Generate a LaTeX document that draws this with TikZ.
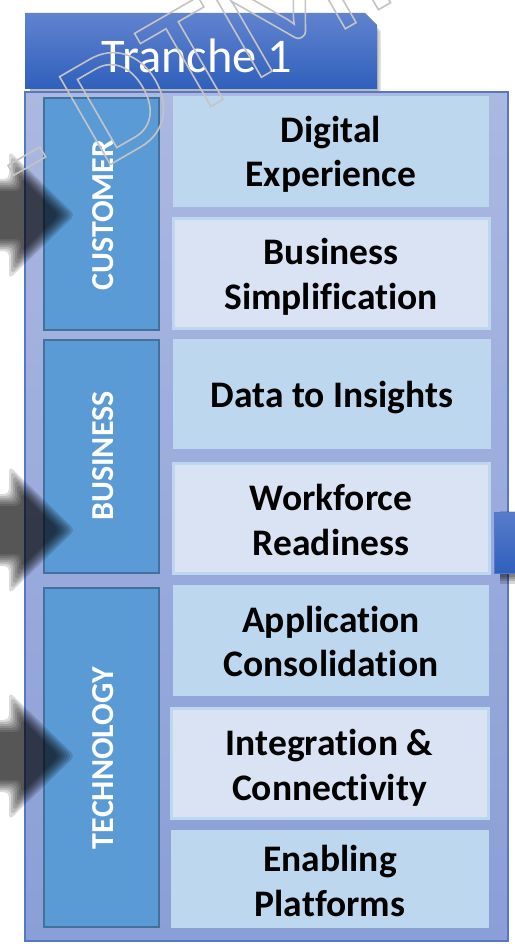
\documentclass[tikz,border=0pt]{standalone}
\usepackage{fontspec}
\setmainfont[RawFeature={-liga;-clig;-dlig}]{Carlito}
\definecolor{frameedge}{HTML}{5577C6}
\definecolor{frametop}{HTML}{ABB8E0}
\definecolor{framebot}{HTML}{8A9FD7}
\definecolor{tabtop}{HTML}{6183CF}
\definecolor{tabbot}{HTML}{2F60BC}
\definecolor{sidefill}{HTML}{5B9BD5}
\definecolor{sideedge}{HTML}{41719C}
\definecolor{itemdark}{HTML}{BDD7EE}
\definecolor{itemlight}{HTML}{DAE3F3}
\tikzset{
  sidebox/.style={draw=sideedge,line width=2.4pt,fill=sidefill,inner sep=0pt,minimum width=115pt},
  sidelabel/.style={text=white,font=\fontsize{32}{32}\selectfont\bfseries,rotate=90,inner sep=0pt},
  itemA/.style={fill=itemdark,inner sep=0pt},
  itemB/.style={itemA,fill=itemlight,draw=itemdark,line width=3pt},
  itemtext/.style={inner sep=0pt,align=center,font=\fontsize{37.5}{44.5}\selectfont\bfseries,text=black},
  softlayer/.style={fill=black,opacity=0.14,rounded corners=5pt},
}
\newcommand{\softarrow}[1]{%
  \foreach \d in {-6,-4,-2,0,2,4,6}{
    \pgfmathsetmacro{\sy}{30+\d}
    \pgfmathsetmacro{\bx}{15-\d}
    \pgfmathsetmacro{\hy}{51+2.2*\d}
    \pgfmathsetmacro{\tx}{67+1.35*\d}
    \path[softlayer,shift={(0,#1)}] (-30,-\sy) -- (\bx,-\sy) -- (\bx,-\hy) -- (\tx,0) -- (\bx,\hy) -- (\bx,\sy) -- (-30,\sy) -- cycle;
  }}
\begin{document}
\begin{tikzpicture}[x=1pt,y=-1pt]
\useasboundingbox (0,0) rectangle (514,944);
\fill[white] (0,0) rectangle (514,944);
% tab shadow
\foreach \d in {1,2.5,4}{
  \fill[black,opacity=0.10,rounded corners=2pt] (30,22) -- (366,22) -- (377+\d,30) -- (377+\d,91+\d) -- (30,91+\d) -- cycle;
}
\path[top color=tabtop,bottom color=tabbot] (25,13) -- (365,13) -- (377,25) -- (377,89) -- (25,89) -- cycle;
\node[text=white,font=\fontsize{48.4}{48.4}\selectfont,inner sep=0pt] (tab) at (197,56) {Tranche 1};
% frame
\node[draw=frameedge,line width=1.5pt,top color=frametop,bottom color=framebot,minimum width=483pt,minimum height=849pt,inner sep=0pt] (frame) at (266.5,516.5) {};
% side boxes
\node[sidebox,minimum height=232pt] (customer) at (101.5,214) {};
\node[sidelabel] (customerlabel) at (103,215) {CUSTOMER};
\node[sidebox,minimum height=233pt] (business) at (101.5,456.5) {};
\node[sidelabel] (businesslabel) at (103,456) {BUSINESS};
\node[sidebox,minimum height=339pt] (technology) at (101.5,757.5) {};
\node[sidelabel] (technologylabel) at (103,758) {TECHNOLOGY};
% items
\node[itemA,minimum width=316pt,minimum height=111pt] (digital) at (331,151.5) {};
\node[itemtext] (digitaltext) at (331,154.5) {Digital\\Experience};
\node[itemB,minimum width=316pt,minimum height=110pt] (simpl) at (331,273) {};
\node[itemtext] (simpltext) at (331,277) {Business\\Simplification};
\node[itemA,minimum width=318pt,minimum height=110pt] (data) at (332,394) {};
\node[itemtext] (datatext) at (332,398) {Data to Insights};
\node[itemB,minimum width=316pt,minimum height=110pt] (workforce) at (331,518) {};
\node[itemtext] (workforcetext) at (331,520) {Workforce\\Readiness};
\node[itemA,minimum width=316pt,minimum height=111pt] (appl) at (331,640.5) {};
\node[itemtext] (appltext) at (331,641.5) {Application\\Consolidation};
\node[itemB,minimum width=317pt,minimum height=110pt] (integ) at (329.5,763) {};
\node[itemtext] (integtext) at (329.5,768) {Integration \&\\Connectivity};
\node[itemA,minimum width=318pt,minimum height=98pt] (enabling) at (330,879) {};
\node[itemtext] (enablingtext) at (330,881) {Enabling\\Platforms};
% right stub
\foreach \d in {1,2.5,4,6}{
  \fill[black,opacity=0.16] (500,514-0.5*\d) rectangle (516,575+1.5*\d);
}
\node[draw=frameedge,line width=0.8pt,top color=tabtop!80!tabbot,bottom color=tabbot,minimum width=24pt,minimum height=61pt,inner sep=0pt] (stub) at (506,543) {};
% arrows
\softarrow{215}
\softarrow{530}
\softarrow{756}
% watermark
\node[anchor=base west,rotate=30,inner sep=0pt,font=\fontsize{158}{158}\selectfont] (mark) at (28,212)
 {\special{pdf:code q 1 Tr 1.6 w 0.77 0.77 0.77 RG}- DTMI\special{pdf:code 0 Tr Q}};
\end{tikzpicture}
\end{document}
